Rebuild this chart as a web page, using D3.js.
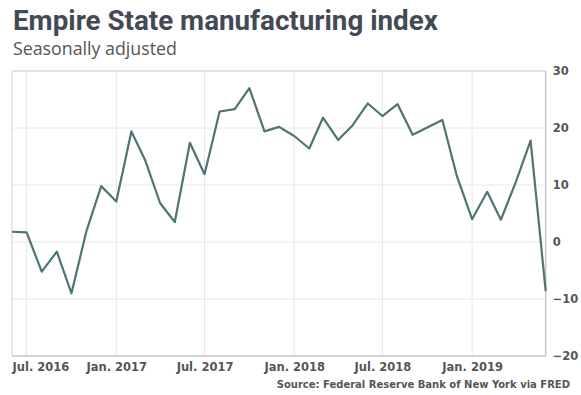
<!DOCTYPE html>
<html><head><meta charset="utf-8">
<script src="https://cdn.jsdelivr.net/npm/d3@7"></script>
<style>body{margin:0;background:#fff}svg{display:block}</style>
</head><body>
<svg id="c" width="581" height="395"></svg>
<script>
const months = ["2016-06","2016-07","2016-08","2016-09","2016-10","2016-11","2016-12",
"2017-01","2017-02","2017-03","2017-04","2017-05","2017-06","2017-07","2017-08","2017-09","2017-10","2017-11","2017-12",
"2018-01","2018-02","2018-03","2018-04","2018-05","2018-06","2018-07","2018-08","2018-09","2018-10","2018-11","2018-12",
"2019-01","2019-02","2019-03","2019-04","2019-05","2019-06"];
const values = [1.8,1.7,-5.2,-1.7,-9.0,2.0,9.8,
7.1,19.4,14.4,6.8,3.5,17.4,11.9,22.9,23.3,27.0,19.4,20.2,
18.6,16.4,21.8,17.9,20.5,24.3,22.1,24.2,18.8,20.1,21.4,11.5,
4.0,8.8,3.9,10.6,17.8,-8.6];
const xTicks = ["2016-07","2017-01","2017-07","2018-01","2018-07","2019-01"];
const xTickLabels = ["Jul. 2016","Jan. 2017","Jul. 2017","Jan. 2018","Jul. 2018","Jan. 2019"];
const yTicks = [-20,-10,0,10,20,30];
const title = "Empire State manufacturing index";
const subtitle = "Seasonally adjusted";
const source = "Source: Federal Reserve Bank of New York via FRED";

const parse = d3.timeParse("%Y-%m");
const data = months.map((m,i)=>({d:parse(m), v:values[i]}));
const svg = d3.select("#c");
const L=12, R=545.7, T=71, B=356;
const x = d3.scaleTime().domain([parse("2016-06"), parse("2019-06")]).range([L,R]);
const y = d3.scaleLinear().domain([-20,30]).range([B,T]);

// titles
const t = svg.append("text").attr("x",13).attr("y",30).text(title)
  .attr("font-family","Roboto").attr("font-weight","bold").attr("font-size",24).attr("fill","#444a55");
const tw = t.node().getComputedTextLength();
t.attr("font-size", 24*425/tw);
const s = svg.append("text").attr("x",13).attr("y",55).text(subtitle)
  .attr("font-family","Open Sans").attr("font-size",16).attr("fill","#555");
const sw = s.node().getComputedTextLength();
s.attr("font-size", 16*164/sw);

// grid
const g = svg.append("g");
g.selectAll(".gy").data(yTicks).join("line").attr("x1",L).attr("x2",R)
  .attr("y1",d=>y(d)).attr("y2",d=>y(d)).attr("stroke","#e8e8e8").attr("stroke-width",1);
g.selectAll(".gx").data(xTicks).join("line").attr("y1",T).attr("y2",B)
  .attr("x1",d=>x(parse(d))).attr("x2",d=>x(parse(d))).attr("stroke","#e8e8e8").attr("stroke-width",1);
// border
g.append("line").attr("x1",L).attr("x2",R).attr("y1",T).attr("y2",T).attr("stroke","#d0d0d0");
g.append("line").attr("x1",L).attr("x2",L).attr("y1",T).attr("y2",B).attr("stroke","#d0d0d0");
g.append("line").attr("x1",R).attr("x2",R).attr("y1",T).attr("y2",B).attr("stroke","#c8c8c8").attr("stroke-width",1.5);
g.append("line").attr("x1",L).attr("x2",R).attr("y1",B).attr("y2",B).attr("stroke","#c8c8c8").attr("stroke-width",1.5);

// axes
const xa = d3.axisBottom(x).tickValues(xTicks.map(parse)).tickSize(0)
  .tickFormat((d,i)=>xTickLabels[i]);
const xg = svg.append("g").attr("transform",`translate(0,${B})`).call(xa);
xg.select(".domain").remove();
xg.selectAll("text").attr("font-family","DejaVu Sans").attr("font-weight","bold")
  .attr("font-size",11.5).attr("fill","#555").attr("dy","1.05em");
xg.selectAll("text").filter((d,i)=>i===0).attr("text-anchor","start")
  .attr("x", function(d){return L - x(d);});

const ya = d3.axisRight(y).tickValues(yTicks).tickSize(0).tickFormat(d=>d<0?"\u2212"+Math.abs(d):d);
const yg = svg.append("g").attr("transform",`translate(${R+7},0)`).call(ya);
yg.select(".domain").remove();
yg.selectAll("text").attr("font-family","DejaVu Sans").attr("font-weight","bold")
  .attr("font-size",11.5).attr("fill","#555").attr("x",0);

// line
svg.append("path").datum(data)
  .attr("d", d3.line().x(d=>x(d.d)).y(d=>y(d.v)))
  .attr("fill","none").attr("stroke","#4f7473").attr("stroke-width",2.2).attr("stroke-linejoin","round");

svg.append("text").attr("x",570).attr("y",388).attr("text-anchor","end").text(source)
  .attr("font-family","DejaVu Sans").attr("font-weight","bold").attr("font-size",10).attr("fill","#555");
</script>
</body></html>
